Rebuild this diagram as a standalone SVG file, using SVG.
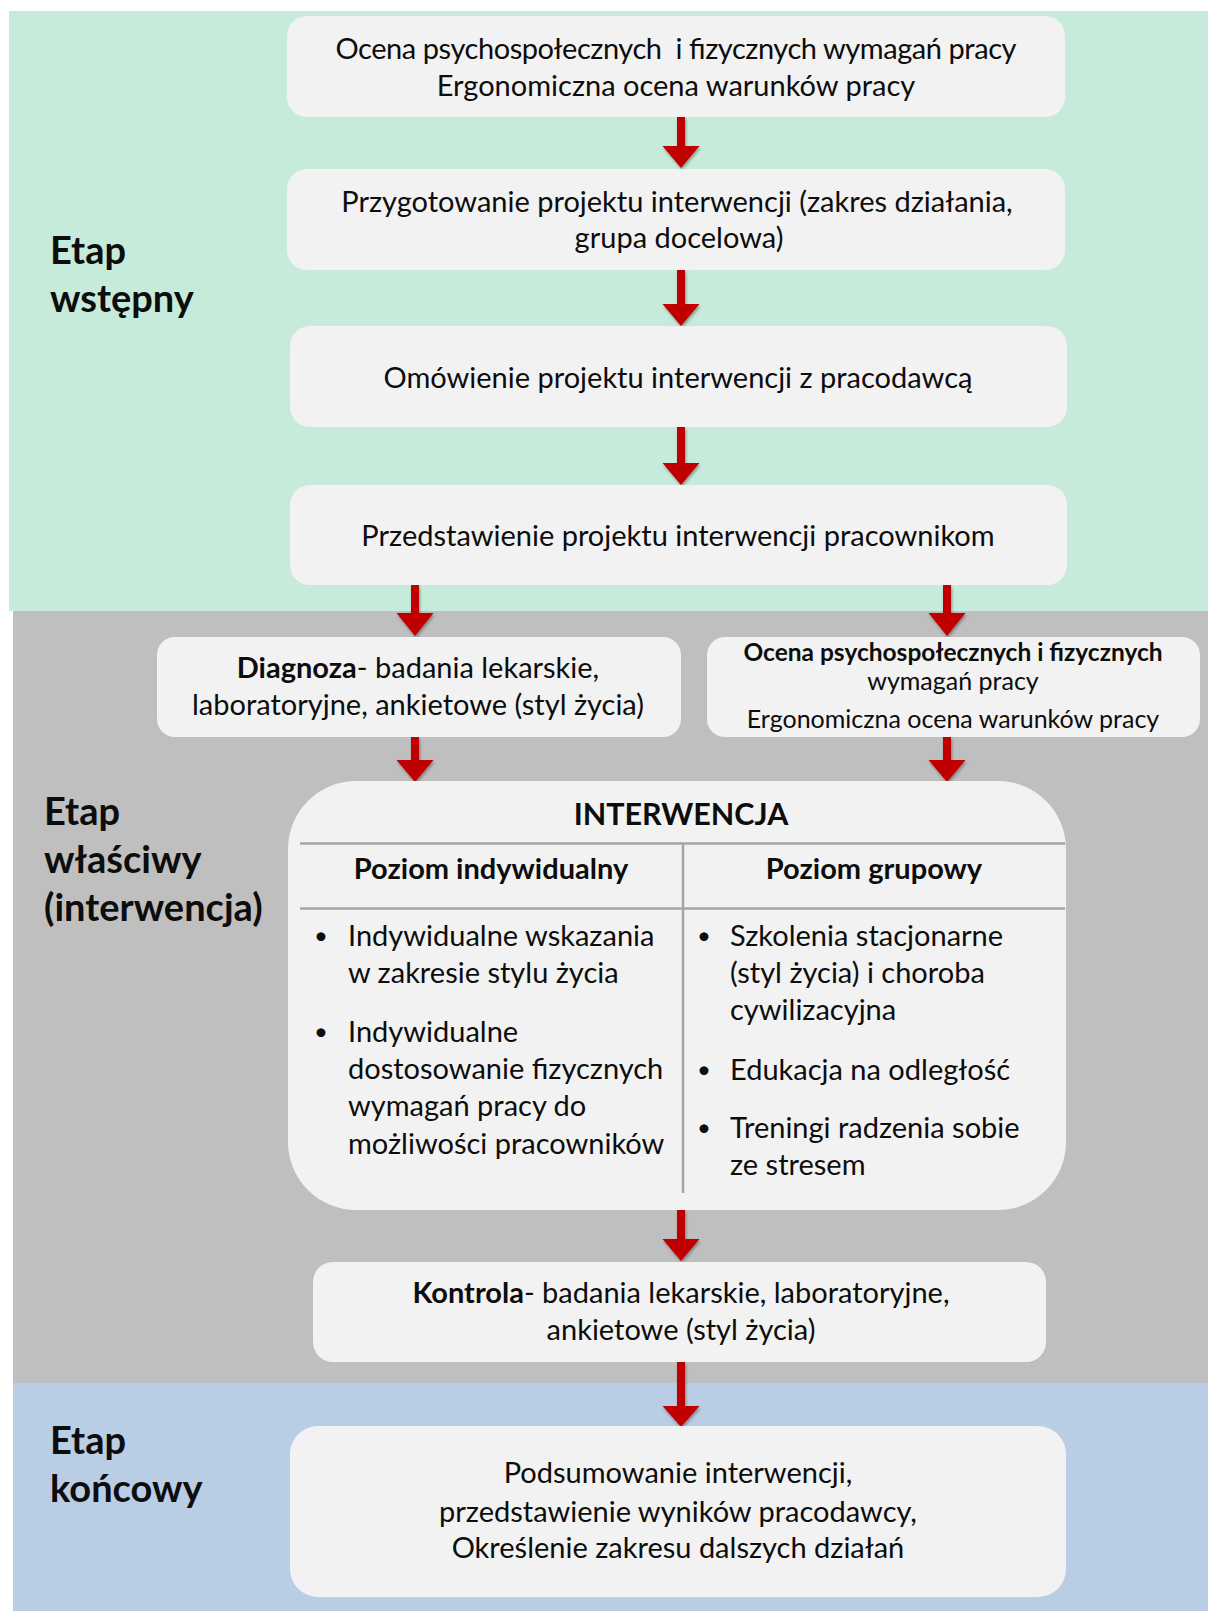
<svg xmlns="http://www.w3.org/2000/svg" width="1208" height="1611" viewBox="0 0 1208 1611">
<defs>
<style>
.t{font-family:Lato,"Liberation Sans",sans-serif;font-size:29px;fill:#0d0d0d;text-anchor:middle}
.s{font-family:Lato,"Liberation Sans",sans-serif;font-size:25px;fill:#0d0d0d;text-anchor:middle}
.l{font-family:Lato,"Liberation Sans",sans-serif;font-size:29px;fill:#0d0d0d}
.u{font-family:Lato,"Liberation Sans",sans-serif;font-size:24px;fill:#0d0d0d;text-anchor:middle}
.b{font-weight:bold}
.h{font-family:Lato,"Liberation Sans",sans-serif;font-size:38px;font-weight:bold;fill:#0d0d0d}
.box{fill:#F2F2F2}
.ln{stroke:#A6A6A6;stroke-width:2.5;fill:none}
.ar{fill:#C00000;filter:url(#sh)}
</style>
<filter id="sh" x="-50%" y="-50%" width="200%" height="200%">
<feDropShadow dx="1" dy="2" stdDeviation="1.5" flood-color="#000" flood-opacity="0.35"/>
</filter>
</defs>
<g id="backgrounds">
<rect x="9" y="11" width="1199" height="600" fill="#C7EBDA"/>
<rect x="13" y="611" width="1195" height="772" fill="#BFBFBF"/>
<rect x="13" y="1383" width="1195" height="228" fill="#B9CDE5"/>
</g>
<g id="stage-labels">
<text class="h" x="50" y="264">Etap</text>
<text class="h" x="50" y="312">wstępny</text>
<text class="h" x="44" y="825">Etap</text>
<text class="h" x="44" y="873">właściwy</text>
<text class="h" x="44" y="921">(interwencja)</text>
<text class="h" x="50" y="1454">Etap</text>
<text class="h" x="50" y="1502">końcowy</text>
</g>
<g id="connectors">
<path class="ar" d="M677,117 H685 V146 H699.5 L681,168 L662.5,146 H677 Z"/>
<path class="ar" d="M677,270 H685 V304 H699.5 L681,326 L662.5,304 H677 Z"/>
<path class="ar" d="M677,427 H685 V463 H699.5 L681,485 L662.5,463 H677 Z"/>
<path class="ar" d="M411,585 H419 V613 H433.5 L415,636 L396.5,613 H411 Z"/>
<path class="ar" d="M943,585 H951 V613 H965.5 L947,636 L928.5,613 H943 Z"/>
<path class="ar" d="M411,737 H419 V760 H433.5 L415,782 L396.5,760 H411 Z"/>
<path class="ar" d="M943,737 H951 V760 H965.5 L947,782 L928.5,760 H943 Z"/>
<path class="ar" d="M677,1210 H685 V1239 H699.5 L681,1261 L662.5,1239 H677 Z"/>
<path class="ar" d="M677,1362 H685 V1406 H699.5 L681,1427 L662.5,1406 H677 Z"/>
</g>
<g id="n1">
<rect class="box" x="287" y="16" width="778" height="101" rx="20"/>
<text class="t" x="676" y="58.5" textLength="681" style="white-space:pre">Ocena psychospołecznych  i fizycznych wymagań pracy</text>
<text class="t" x="676" y="96">Ergonomiczna ocena warunków pracy</text>
</g>
<g id="n2">
<rect class="box" x="287" y="169" width="778" height="101" rx="20"/>
<text class="t" x="677" y="211.5">Przygotowanie projektu interwencji (zakres działania,</text>
<text class="t" x="679" y="248">grupa docelowa)</text>
</g>
<g id="n3">
<rect class="box" x="290" y="326" width="777" height="101" rx="20"/>
<text class="t" x="678" y="387.5">Omówienie projektu interwencji z pracodawcą</text>
</g>
<g id="n4">
<rect class="box" x="290" y="485" width="777" height="100" rx="20"/>
<text class="t" x="678" y="545.5">Przedstawienie projektu interwencji pracownikom</text>
</g>
<g id="n5">
<rect class="box" x="157" y="637" width="524" height="100" rx="18"/>
<text class="t" x="418" y="678"><tspan class="b">Diagnoza</tspan>- badania lekarskie,</text>
<text class="t" x="418" y="715">laboratoryjne, ankietowe (styl życia)</text>
</g>
<g id="n6">
<rect class="box" x="707" y="637" width="493" height="100" rx="18"/>
<text class="s b" x="953" y="660.5" style="font-size:24.5px">Ocena psychospołecznych i fizycznych</text>
<text class="s" x="953" y="690">wymagań pracy</text>
<text class="s" x="953" y="728">Ergonomiczna ocena warunków pracy</text>
</g>
<g id="n7">
<rect class="box" x="288" y="781" width="778" height="429" rx="68"/>
<text class="t b" x="681" y="825" style="font-size:30.5px">INTERWENCJA</text>
<line class="ln" x1="300" y1="843.5" x2="1065" y2="843.5"/>
<line class="ln" x1="300" y1="908.5" x2="1065" y2="908.5"/>
<line class="ln" x1="683" y1="844" x2="683" y2="1193"/>
<text class="t b" x="491" y="879">Poziom indywidualny</text>
<text class="t b" x="874" y="879">Poziom grupowy</text>
<text class="u" x="321" y="944">•</text>
<text class="l" x="348" y="946">Indywidualne wskazania</text>
<text class="l" x="348" y="983">w zakresie stylu życia</text>
<text class="u" x="321" y="1040">•</text>
<text class="l" x="348" y="1042">Indywidualne</text>
<text class="l" x="348" y="1079">dostosowanie fizycznych</text>
<text class="l" x="348" y="1116">wymagań pracy do</text>
<text class="l" x="348" y="1153.5">możliwości pracowników</text>
<text class="u" x="704" y="944">•</text>
<text class="l" x="730" y="946">Szkolenia stacjonarne</text>
<text class="l" x="730" y="983">(styl życia) i choroba</text>
<text class="l" x="730" y="1020">cywilizacyjna</text>
<text class="u" x="704" y="1077.5">•</text>
<text class="l" x="730" y="1079.5">Edukacja na odległość</text>
<text class="u" x="704" y="1136">•</text>
<text class="l" x="730" y="1138">Treningi radzenia sobie</text>
<text class="l" x="730" y="1175">ze stresem</text>
</g>
<g id="n8">
<rect class="box" x="313" y="1262" width="733" height="100" rx="20"/>
<text class="t" x="681" y="1303"><tspan class="b">Kontrola</tspan>- badania lekarskie, laboratoryjne,</text>
<text class="t" x="681" y="1340">ankietowe (styl życia)</text>
</g>
<g id="n9">
<rect class="box" x="290" y="1426" width="776" height="171" rx="28"/>
<text class="t" x="678" y="1483">Podsumowanie interwencji,</text>
<text class="t" x="678" y="1521.5">przedstawienie wyników pracodawcy,</text>
<text class="t" x="678" y="1558">Określenie zakresu dalszych działań</text>
</g>
</svg>
